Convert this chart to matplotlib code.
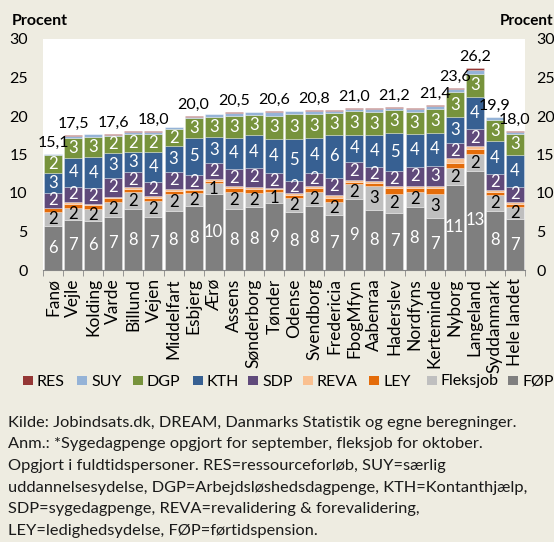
import numpy as np
import matplotlib
matplotlib.use("Agg")
import matplotlib.pyplot as plt
from matplotlib.patches import Rectangle

plt.rcParams['font.family'] = ['Lato', 'DejaVu Sans']

kommuner = ["Fanø", "Vejle", "Kolding", "Varde", "Billund", "Vejen", "Middelfart",
            "Esbjerg", "Ærø", "Assens", "Sønderborg", "Tønder", "Odense", "Svendborg",
            "Fredericia", "FbogMfyn", "Aabenraa", "Haderslev", "Nordfyns", "Kerteminde",
            "Nyborg", "Langeland", "Syddanmark", "Hele landet"]

# procent af befolkningen, stablet nedefra
foep = [5.76, 6.54, 6.41, 6.93, 7.92, 6.93, 7.71, 8.35, 9.87, 7.92, 8.18, 8.66,
        7.58, 8.35, 7.14, 9.22, 7.79, 7.45, 8.23, 6.80, 11.04, 12.86, 7.71, 6.62]
fleks = [1.73, 1.55, 1.55, 1.94, 2.20, 2.03, 2.16, 1.60, 1.39, 2.25, 1.80, 1.43,
         1.73, 1.74, 1.73, 1.90, 3.10, 2.45, 1.95, 3.03, 2.16, 2.16, 2.03, 1.60]
ley = [0.50, 0.45, 0.45, 0.43, 0.40, 0.43, 0.43, 0.43, 0.35, 0.52, 0.55, 0.43,
       0.43, 0.52, 0.52, 0.35, 0.43, 0.75, 0.52, 0.78, 0.74, 0.69, 0.43, 0.35]
reva = [0.10, 0.30, 0.20, 0.20, 0.20, 0.17, 0.20, 0.20, 0.17, 0.26, 0.30, 0.17,
        0.20, 0.35, 0.35, 0.20, 0.26, 0.20, 0.26, 0.35, 0.56, 0.39, 0.20, 0.30]
sdp = [1.90, 1.98, 1.99, 2.45, 2.00, 1.91, 2.27, 1.80, 2.16, 2.12, 2.37, 1.86,
       1.66, 1.70, 2.25, 2.39, 1.82, 2.00, 2.45, 2.55, 1.95, 2.20, 2.05, 1.95]
kth = [2.60, 3.78, 4.12, 3.25, 2.65, 3.90, 3.33, 4.80, 3.38, 4.12, 4.33, 4.45,
       5.41, 4.44, 5.55, 3.50, 4.11, 4.98, 4.30, 4.33, 3.46, 4.20, 4.33, 4.12]
dgp = [2.35, 2.60, 2.55, 2.20, 2.30, 2.29, 2.20, 2.52, 2.60, 2.81, 2.60, 3.05,
       3.25, 3.20, 2.80, 3.03, 3.03, 2.94, 2.85, 3.03, 3.16, 2.95, 2.73, 2.72]
suy = [0.11, 0.25, 0.33, 0.15, 0.30, 0.28, 0.25, 0.22, 0.30, 0.40, 0.35, 0.45,
       0.40, 0.40, 0.36, 0.31, 0.40, 0.33, 0.35, 0.45, 0.41, 0.50, 0.33, 0.27]
res = [0.05, 0.05, 0.05, 0.05, 0.08, 0.06, 0.05, 0.08, 0.08, 0.10, 0.07, 0.10,
       0.05, 0.10, 0.10, 0.10, 0.10, 0.10, 0.09, 0.08, 0.12, 0.25, 0.09, 0.07]

# kun hver anden total er vist i originalen
total_label_idx = [0, 1, 3, 5, 7, 9, 11, 13, 15, 17, 19, 20, 21, 22, 23]

series = [
    ("FØP", foep, "#7F7F7F", "white"),
    ("Fleksjob", fleks, "#BFBFBF", "black"),
    ("LEY", ley, "#E46C0A", None),
    ("REVA", reva, "#FAC090", None),
    ("SDP", sdp, "#604A7B", "white"),
    ("KTH", kth, "#376092", "white"),
    ("DGP", dgp, "#77933C", "white"),
    ("SUY", suy, "#95B3D7", None),
    ("RES", res, "#953735", None),
]

bg = "#EEECE1"
W, H = 554, 542
fig = plt.figure(figsize=(W / 100, H / 100), dpi=100, facecolor=bg)
ax = fig.add_axes([43 / W, 1 - 270 / H, (525 - 43) / W, (270 - 39) / H])
ax.set_facecolor("white")

x = np.arange(len(kommuner))
bottom = np.zeros(len(kommuner))
for name, vals, col, tcol in series:
    vals = np.array(vals)
    ax.bar(x, vals, 0.9, bottom=bottom, color=col, edgecolor=(1, 1, 1, 0.5),
           linewidth=0.4, label=name)
    if tcol:
        for i, v in enumerate(vals):
            ax.text(i, bottom[i] + v / 2, f"{v:.0f}", ha="center", va="center",
                    color=tcol, fontsize=12)
    bottom += vals

for i in total_label_idx:
    ax.annotate(f"{bottom[i]:.1f}".replace(".", ","), (i, bottom[i]),
                xytext=(0, 3), textcoords="offset points", ha="center",
                va="bottom", fontsize=11.5, color="black")

ax.set_xlim(-0.5, len(kommuner) - 0.5)
ax.set_ylim(0, 30)
ax.set_yticks(range(0, 31, 5))
ax.set_xticks(x)
ax.set_xticklabels(kommuner, rotation=90, fontsize=12.5)
ax.set_xticks(np.arange(-0.5, len(kommuner)), minor=True)
ax.tick_params(axis="x", which="major", length=0, pad=6)
ax.tick_params(axis="x", which="minor", length=4, color="#868686")
ax.tick_params(axis="y", length=0, labelsize=11.5, pad=11)
for s in ["top", "right", "left"]:
    ax.spines[s].set_visible(False)
ax.spines["bottom"].set_color("#868686")

ax2 = ax.twinx()
ax2.set_ylim(0, 30)
ax2.set_yticks(range(0, 31, 5))
ax2.tick_params(axis="y", length=0, labelsize=11.5, pad=8)
for s in ax2.spines.values():
    s.set_visible(False)

fig.text(12 / W, 1 - 25 / H, "Procent", fontsize=11.5, fontweight="bold",
         ha="left", va="baseline")
fig.text(500 / W, 1 - 25 / H, "Procent", fontsize=11, fontweight="bold",
         ha="left", va="baseline")

# legende placeret som i originalen
order = ["RES", "SUY", "DGP", "KTH", "SDP", "REVA", "LEY", "Fleksjob", "FØP"]
leg_x = [23, 77, 133, 193, 248, 303, 369, 427, 508]
colors = {n: c for n, v, c, t in series}
for n, lx in zip(order, leg_x):
    fig.patches.append(Rectangle((lx / W, 1 - 385 / H), 9.5 / W, 9.5 / H,
                                 transform=fig.transFigure, facecolor=colors[n],
                                 edgecolor="none"))
    fig.text((lx + 14) / W, 1 - 380 / H, n, fontsize=11.5, ha="left",
             va="center_baseline")

notes = [
    "Kilde: Jobindsats.dk, DREAM, Danmarks Statistik og egne beregninger.",
    "Anm.: *Sygedagpenge opgjort for september, fleksjob for oktober.",
    "Opgjort i fuldtidspersoner. RES=ressourceforløb, SUY=særlig",
    "uddannelsesydelse, DGP=Arbejdsløshedsdagpenge, KTH=Kontanthjælp,",
    "SDP=sygedagpenge, REVA=revalidering & forevalidering,",
    "LEY=ledighedsydelse, FØP=førtidspension.",
]
for k, line in enumerate(notes):
    fig.text(8 / W, 1 - (426.7 + 21.7 * k) / H, line, fontsize=11.8,
             ha="left", va="baseline", color="#1a1a1a")

fig.savefig("out.png", dpi=100, facecolor=bg)
